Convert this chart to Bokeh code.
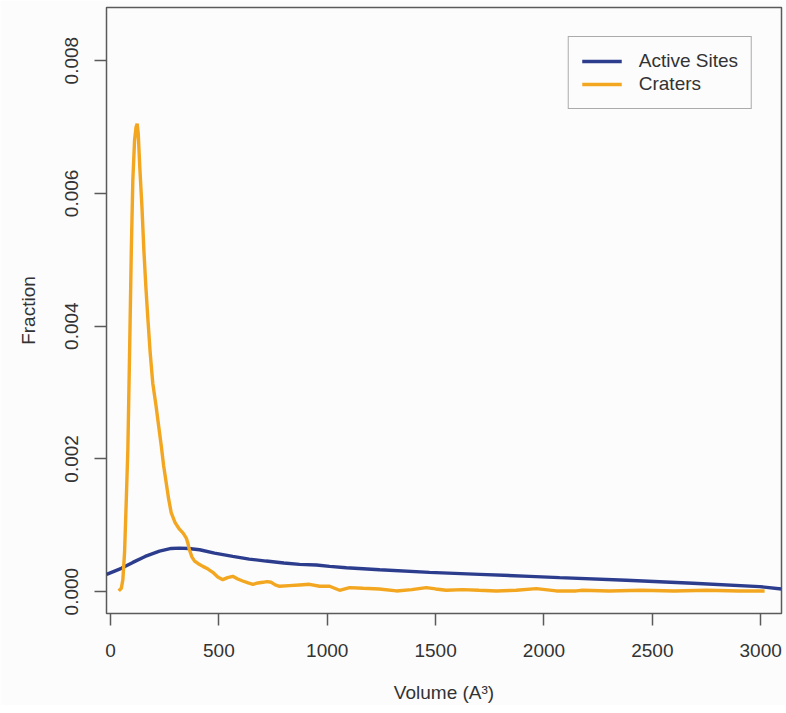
from bokeh.plotting import figure
from bokeh.models import FixedTicker, Range1d, Legend, LegendItem, PrintfTickFormatter
from bokeh.embed import file_html
from bokeh.resources import INLINE

# ---- data ----
sites_x = [-18, 50, 103, 160, 226, 280, 318, 360, 411, 480, 564, 640, 718, 800, 872,
           950, 1011, 1088, 1242, 1472, 1703, 1934, 2072, 2380, 2687, 2995, 3096]
sites_y = [0.00026, 0.00035, 0.00044, 0.00053, 0.00061, 0.00065, 0.000655, 0.00065,
           0.00063, 0.00058, 0.00053, 0.00049, 0.00046, 0.00043, 0.00041, 0.00040,
           0.00038, 0.00036, 0.00033, 0.00029, 0.00026, 0.00023, 0.00021, 0.00017,
           0.000125, 0.000075, 0.00004]

crater_x = [38, 50, 57, 65, 72, 80, 88, 96, 103, 111, 118, 123, 128, 135, 145, 154, 163,
            172, 183, 195, 210, 222, 234, 245, 257, 268, 280, 298, 318, 335, 349, 357,
            364, 376, 388, 405, 426, 450, 472, 495, 518, 540, 564, 587, 610, 635, 657,
            680, 703, 722, 742, 760, 780, 825, 872, 918, 965, 1011, 1057, 1103, 1165,
            1240, 1319, 1390, 1457, 1500, 1549, 1626, 1700, 1780, 1872, 1965, 2057,
            2149, 2178, 2300, 2450, 2600, 2750, 2900, 3018]
crater_y = [0.00001, 0.00005, 0.00018, 0.0006, 0.0013, 0.00214, 0.0036, 0.00514, 0.0062,
            0.0068, 0.0070, 0.00705, 0.0069, 0.0064, 0.0058, 0.00514, 0.0046, 0.00413,
            0.0036, 0.00314, 0.0028, 0.0025, 0.0022, 0.0019, 0.00164, 0.0014, 0.00119,
            0.00104, 0.00094, 0.00088, 0.00081, 0.00073, 0.00063, 0.00052, 0.00046,
            0.00042, 0.00038, 0.00034, 0.00029, 0.00022, 0.00018, 0.00021, 0.00023,
            0.00019, 0.00016, 0.00013, 0.00011, 0.00013, 0.00014, 0.00015, 0.00014,
            0.0001, 0.00008, 0.00009, 0.0001, 0.00011, 0.00008, 0.00008, 0.00002,
            0.00006, 0.00005, 0.00004, 0.00001, 0.00003, 0.00006, 0.00004, 0.00002,
            0.00003, 0.00002, 0.00001, 0.00002, 0.000045, 0.00001, 0.00001, 0.00002,
            0.00001, 0.00002, 0.00001, 0.00002, 0.00001, 0.00001]

x_ticks = [0, 500, 1000, 1500, 2000, 2500, 3000]
y_ticks = [0.0, 0.002, 0.004, 0.006, 0.008]
series_names = ["Active Sites", "Craters"]

FONT = "Liberation Sans"
BLUE = "#2d3d8e"
ORANGE = "#f3a61f"
AXC = "#5a5a5a"
BG = "#fcfcfc"

p = figure(frame_width=675, frame_height=606, output_backend="svg", toolbar_location=None,
           x_range=Range1d(-18.5, 3096), y_range=Range1d(-0.00033, 0.0088),
           min_border_left=106, min_border_top=7, min_border_right=4, min_border_bottom=88,
           background_fill_color=BG, border_fill_color=BG)

p.grid.visible = False
p.outline_line_color = AXC
p.outline_line_width = 1.5

for ax in (p.xaxis[0], p.yaxis[0]):
    ax.axis_line_color = None
    ax.major_tick_line_color = AXC
    ax.major_tick_line_width = 1.5
    ax.major_tick_out = 12
    ax.major_tick_in = 0
    ax.minor_tick_line_color = None
    ax.major_label_text_font = FONT
    ax.major_label_text_font_size = "19px"
    ax.major_label_text_color = "#333333"
    ax.axis_label_text_font = FONT
    ax.axis_label_text_font_size = "19px"
    ax.axis_label_text_font_style = "normal"
    ax.axis_label_text_color = "#333333"

p.xaxis.ticker = FixedTicker(ticks=x_ticks)
p.yaxis.ticker = FixedTicker(ticks=y_ticks)
p.yaxis.formatter = PrintfTickFormatter(format="%.3f")
p.yaxis.major_label_orientation = "vertical"
p.xaxis.major_label_standoff = 18
p.yaxis.major_label_standoff = 16
p.xaxis.axis_label = "Volume (A\u00b3)"
p.yaxis.axis_label = "Fraction"
p.xaxis.axis_label_standoff = 22
p.yaxis.axis_label_standoff = 24

r1 = p.line(sites_x, sites_y, line_color=BLUE, line_width=3.4)
r2 = p.line(crater_x, crater_y, line_color=ORANGE, line_width=3.4)

legend = Legend(items=[LegendItem(label=series_names[0], renderers=[r1]),
                       LegendItem(label=series_names[1], renderers=[r2])],
                location="top_right", margin=29, padding=13, spacing=1,
                glyph_width=40, glyph_height=22, label_height=22, label_standoff=17,
                label_text_font=FONT, label_text_font_size="19px",
                label_text_color="#333333",
                border_line_color=AXC, border_line_width=1.5,
                background_fill_color=BG, background_fill_alpha=1.0)
p.add_layout(legend)

open("out.html", "w").write(file_html(p, INLINE))
